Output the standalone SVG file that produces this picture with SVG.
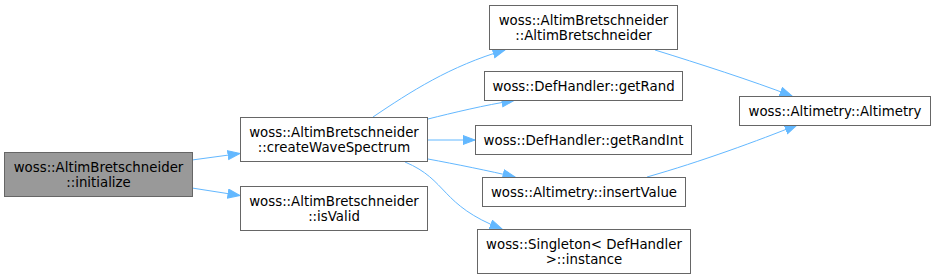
<svg xmlns="http://www.w3.org/2000/svg" width="936" height="279" viewBox="0 0 936 279">
<style>
.n rect{fill:#ffffff;stroke:#666666;stroke-width:1}
.n.cur rect{fill:#999999}
.n text{font-family:"DejaVu Sans",sans-serif;font-size:13.33px;fill:#000000;text-anchor:middle}
.e path{fill:none;stroke:#63b8ff;stroke-width:1}
</style>
<defs>
<marker id="ah" markerUnits="userSpaceOnUse" markerWidth="14" markerHeight="11" refX="12.5" refY="5" orient="auto">
<path d="M0.5,0.5 L12.5,5 L0.5,9.5 Z" fill="#63b8ff" stroke="#63b8ff"/>
</marker>
</defs>
<rect width="936" height="279" fill="#ffffff"/>
<g id="edges" class="e">
<path d="M192,160 L240,153.5" marker-end="url(#ah)"/>
<path d="M192,188 L240,195.5" marker-end="url(#ah)"/>
<path d="M373,117 C410,92 450,66 505,50" marker-end="url(#ah)"/>
<path d="M428,119 C452,113 485,105 514,100.5" marker-end="url(#ah)"/>
<path d="M428,140 L475,140" marker-end="url(#ah)"/>
<path d="M428,159 C455,164 490,171 515,177" marker-end="url(#ah)"/>
<path d="M405,162 C448,180 440,205 502,229" marker-end="url(#ah)"/>
<path d="M655,50 C700,64 750,80 792,96" marker-end="url(#ah)"/>
<path d="M647,177 C700,162 760,140 797,125" marker-end="url(#ah)"/>
</g>
<g id="node-initialize" class="n cur">
<rect x="4.5" y="152.5" width="188" height="44"/>
<text x="98.5" y="171.8">woss::AltimBretschneider</text>
<text x="98.5" y="186.8">::initialize</text>
</g>
<g id="node-createWaveSpectrum" class="n">
<rect x="240.5" y="117.5" width="187" height="44"/>
<text x="334" y="136.8">woss::AltimBretschneider</text>
<text x="334" y="151.8">::createWaveSpectrum</text>
</g>
<g id="node-isValid" class="n">
<rect x="240.5" y="186.5" width="187" height="44"/>
<text x="334" y="205.8">woss::AltimBretschneider</text>
<text x="334" y="220.8">::isValid</text>
</g>
<g id="node-AltimBretschneider" class="n">
<rect x="489.5" y="5.5" width="188" height="44"/>
<text x="583.5" y="24.8">woss::AltimBretschneider</text>
<text x="583.5" y="39.8">::AltimBretschneider</text>
</g>
<g id="node-getRand" class="n">
<rect x="484.5" y="71.5" width="198" height="29"/>
<text x="583.5" y="90.8">woss::DefHandler::getRand</text>
</g>
<g id="node-getRandInt" class="n">
<rect x="475.5" y="125.5" width="216" height="29"/>
<text x="583.5" y="144.8">woss::DefHandler::getRandInt</text>
</g>
<g id="node-insertValue" class="n">
<rect x="482.5" y="177.5" width="203" height="29"/>
<text x="584" y="196.8">woss::Altimetry::insertValue</text>
</g>
<g id="node-instance" class="n">
<rect x="477.5" y="229.5" width="213" height="44"/>
<text x="584" y="248.8">woss::Singleton&lt; DefHandler</text>
<text x="584" y="263.8">&gt;::instance</text>
</g>
<g id="node-Altimetry" class="n">
<rect x="739.5" y="96.5" width="191" height="29"/>
<text x="835" y="115.8">woss::Altimetry::Altimetry</text>
</g>
</svg>
